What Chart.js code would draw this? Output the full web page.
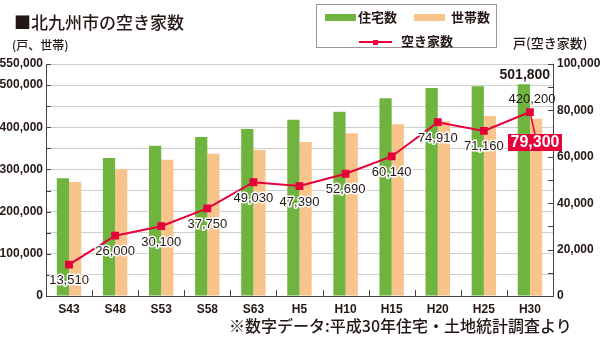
<!DOCTYPE html>
<html>
<head>
<meta charset="utf-8">
<script src="https://cdn.jsdelivr.net/npm/chart.js@4"></script>
<style>
body { margin: 0; width: 601px; height: 341px; position: relative; overflow: hidden; background: #fff;
       font-family: "Noto Sans CJK JP", sans-serif; color: #231815; }
canvas { position: absolute; left: 0; top: 0; }
.t { position: absolute; white-space: nowrap; line-height: 1; }
.legend { position: absolute; left: 316px; top: 4px; width: 181px; height: 44px; border: 1px solid #999; box-sizing: border-box; }
.sw { position: absolute; height: 7px; width: 31px; }
</style>
</head>
<body>
<canvas id="chart" width="601" height="341"></canvas>

<div class="t" style="left:14px;top:13px;font-size:17px;font-weight:500">■北九州市の空き家数</div>
<div class="t" style="left:12px;top:39px;font-size:12px;font-weight:500">(戸、世帯)</div>
<div class="t" style="left:513px;top:36px;font-size:13px;font-weight:500">戸(空き家数)</div>

<div class="legend">
  <div class="sw" style="left:8px;top:9px;background:#70b440"></div>
  <div class="t" style="left:41px;top:5px;font-size:13px;font-weight:700">住宅数</div>
  <div class="sw" style="left:97px;top:9px;background:#f8c48c"></div>
  <div class="t" style="left:134px;top:5px;font-size:13px;font-weight:700">世帯数</div>
  <div style="position:absolute;left:42px;top:36px;width:33px;height:2px;background:#e5003a"></div>
  <div style="position:absolute;left:56px;top:35px;width:5px;height:5px;background:#e5003a"></div>
  <div class="t" style="left:84px;top:29px;font-size:13px;font-weight:700">空き家数</div>
</div>

<div class="t" style="left:229px;top:317px;font-size:16px;font-weight:500">※数字データ:平成30年住宅・土地統計調査より</div>

<script>
const years = ["S43", "S48", "S53", "S58", "S63", "H5", "H10", "H15", "H20", "H25", "H30"];
const houses = [279000, 327000, 356000, 377000, 396000, 418000, 437000, 469000, 493000, 497000, 501800];
const households = [270000, 301000, 323000, 337000, 346000, 365000, 386000, 407000, 414000, 427000, 420200];
const vacant = [13510, 26000, 30100, 37750, 49030, 47390, 52690, 60140, 74910, 71160, 79300];

const numFont = '"Liberation Sans Narrow", "Arial Narrow", "Liberation Sans", sans-serif';
const fmt = v => v.toLocaleString("en-US");

// inward tick marks, value labels and the highlighted last value
const decor = {
    id: "decor",
    afterDraw(chart) {
        const ctx = chart.ctx;
        const a = chart.chartArea;
        const x = chart.scales.x, y = chart.scales.y, y1 = chart.scales.y1;
        ctx.save();
        ctx.strokeStyle = "#444";
        ctx.lineWidth = 1;
        ctx.beginPath();
        y.ticks.forEach(t => {
            const p = Math.round(y.getPixelForValue(t.value)) + 0.5;
            ctx.moveTo(a.left, p);
            ctx.lineTo(a.left + 5, p);
        });
        y1.ticks.forEach(t => {
            const p = Math.round(y1.getPixelForValue(t.value)) + 0.5;
            ctx.moveTo(a.right - 5, p);
            ctx.lineTo(a.right, p);
        });
        for (let i = 0; i < years.length - 1; i++) {
            const p = Math.round((x.getPixelForValue(i) + x.getPixelForValue(i + 1)) / 2) + 0.5;
            ctx.moveTo(p, a.bottom);
            ctx.lineTo(p, a.bottom - 6);
        }
        ctx.stroke();

        const line = chart.getDatasetMeta(2).data;
        ctx.textAlign = "center";
        ctx.textBaseline = "middle";
        ctx.font = "13px " + numFont;
        ctx.lineJoin = "round";
        for (let i = 0; i < vacant.length - 1; i++) {
            const pt = line[i];
            ctx.strokeStyle = "#fff";
            ctx.lineWidth = 3;
            ctx.strokeText(fmt(vacant[i]), pt.x, pt.y + 16);
            ctx.fillStyle = "#231815";
            ctx.fillText(fmt(vacant[i]), pt.x, pt.y + 16);
        }

        // last point: red callout
        const last = line[vacant.length - 1];
        const bx = last.x + 5, by = last.y + 30;
        ctx.strokeStyle = "#e5003a";
        ctx.lineWidth = 1.5;
        ctx.beginPath();
        ctx.moveTo(last.x, last.y);
        ctx.lineTo(bx, by - 8);
        ctx.stroke();
        ctx.fillStyle = "#e5003a";
        ctx.fillRect(bx - 27, by - 8, 54, 17);
        ctx.fillStyle = "#fff";
        ctx.font = "bold 16px " + numFont;
        ctx.fillText(fmt(vacant[vacant.length - 1]), bx, by + 1);

        // bar values for the latest year
        const g = chart.getDatasetMeta(0).data[houses.length - 1];
        const h = chart.getDatasetMeta(1).data[households.length - 1];
        ctx.fillStyle = "#231815";
        ctx.font = "bold 14px " + numFont;
        ctx.fillText(fmt(houses[houses.length - 1]), g.x + 1, g.y - 9);
        ctx.font = "13px " + numFont;
        ctx.fillText(fmt(households[households.length - 1]), h.x - 4, h.y - 19);
        ctx.restore();
    }
};

new Chart(document.getElementById("chart").getContext("2d"), {
    type: "bar",
    data: {
        labels: years,
        datasets: [
            {
                label: "住宅数",
                data: houses,
                backgroundColor: "#70b440",
                yAxisID: "y",
                order: 2,
            },
            {
                label: "世帯数",
                data: households,
                backgroundColor: "#f8c48c",
                yAxisID: "y",
                order: 2,
            },
            {
                type: "line",
                label: "空き家数",
                data: vacant,
                yAxisID: "y1",
                borderColor: "#e5003a",
                backgroundColor: "#e5003a",
                borderWidth: 2,
                pointStyle: "rect",
                pointRadius: 5.5,
                pointBorderWidth: 0,
                order: 0,
            },
        ],
    },
    options: {
        responsive: false,
        animation: false,
        layout: { padding: { top: 64, left: 0, right: 0, bottom: 0 } },
        datasets: { bar: { barPercentage: 1, categoryPercentage: 0.53 } },
        plugins: {
            legend: { display: false },
            tooltip: { enabled: false },
        },
        scales: {
            x: {
                grid: { display: true, drawOnChartArea: false, drawTicks: false },
                border: { display: true, color: "#444", width: 1 },
                ticks: { color: "#231815", padding: 6, font: { family: numFont, size: 12, weight: "bold" } },
                afterFit: s => { s.height = 45; },
            },
            y: {
                position: "left",
                min: 0,
                max: 550000,
                grid: { color: "#cfcfcf", drawTicks: false },
                border: { display: true, color: "#444", width: 1 },
                ticks: {
                    stepSize: 50000,
                    padding: 3,
                    color: "#231815",
                    font: { family: numFont, size: 12, weight: "bold" },
                    callback: v => (v % 100000 === 0 || v === 550000 ? fmt(v) : ""),
                },
                afterFit: s => { s.width = 46; },
            },
            y1: {
                position: "right",
                min: 0,
                max: 100000,
                grid: { drawOnChartArea: false, drawTicks: false },
                border: { display: true, color: "#444", width: 1 },
                ticks: {
                    stepSize: 10000,
                    padding: 4,
                    color: "#231815",
                    font: { family: numFont, size: 12, weight: "bold" },
                    callback: v => (v % 20000 === 0 ? fmt(v) : ""),
                },
                afterFit: s => { s.width = 48; },
            },
        },
    },
    plugins: [decor],
});
</script>
</body>
</html>
